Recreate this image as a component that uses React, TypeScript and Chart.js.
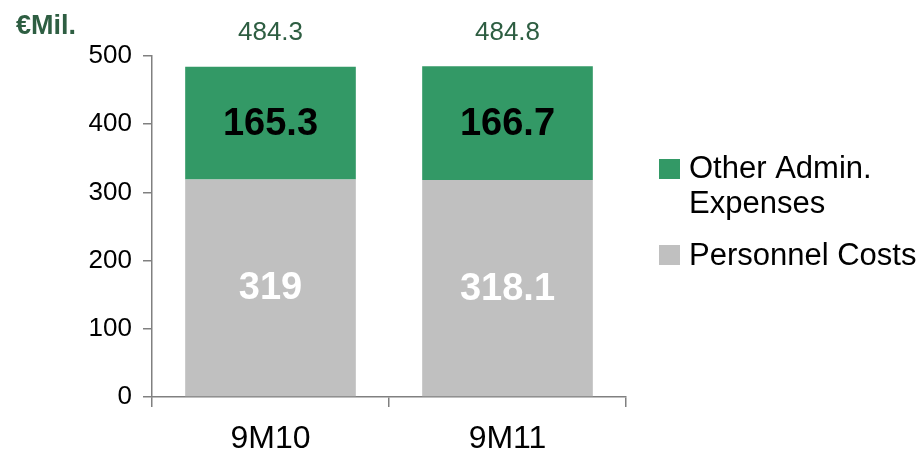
import React, { useEffect, useRef } from "react";
import { Chart, registerables } from "chart.js";

Chart.register(...registerables);

const categories = ["9M10", "9M11"];
const personnelCosts = [319, 318.1];
const otherAdminExpenses = [165.3, 166.7];
const yTicks = [0, 100, 200, 300, 400, 500];

const GREEN = "#339966";
const GRAY = "#c0c0c0";
const DARK_GREEN = "#2e5e42";
const AXIS = "#808080";
const FONT = "'Liberation Sans', Arial, Helvetica, sans-serif";

const fmt = (v: number) => (Math.round(v * 10) / 10).toString();

const labelsPlugin = {
  id: "valueLabels",
  afterDatasetsDraw(chart: any) {
    const ctx = chart.ctx;
    const area = chart.chartArea;
    ctx.save();
    ctx.textAlign = "center";
    ctx.textBaseline = "middle";

    // segment values inside each bar
    chart.data.datasets.forEach((ds: any, di: number) => {
      const meta = chart.getDatasetMeta(di);
      meta.data.forEach((el: any, i: number) => {
        const y = (el.y + el.base) / 2;
        ctx.font = `bold 38px ${FONT}`;
        ctx.fillStyle = ds.labelColor;
        ctx.fillText(fmt(ds.data[i]), el.x, y + 1);
      });
    });

    // stack totals above the bars
    const topMeta = chart.getDatasetMeta(chart.data.datasets.length - 1);
    topMeta.data.forEach((el: any, i: number) => {
      const total = personnelCosts[i] + otherAdminExpenses[i];
      ctx.font = `26px ${FONT}`;
      ctx.fillStyle = DARK_GREEN;
      ctx.fillText(fmt(total), el.x, el.y - 34);
    });

    // unit caption
    ctx.textAlign = "left";
    ctx.font = `bold 27px ${FONT}`;
    ctx.fillStyle = DARK_GREEN;
    ctx.fillText("€Mil.", 16, 27);

    // legend on the right
    const lx = area.right + 33;
    const tx = lx + 30;
    ctx.font = `31px ${FONT}`;
    ctx.fillStyle = GREEN;
    ctx.fillRect(lx, 159, 21, 20);
    ctx.fillStyle = "#000000";
    ctx.fillText("Other Admin.", tx, 169);
    ctx.fillText("Expenses", tx, 204);
    ctx.fillStyle = GRAY;
    ctx.fillRect(lx, 245, 21, 20);
    ctx.fillStyle = "#000000";
    ctx.fillText("Personnel Costs", tx, 256);

    ctx.restore();
  },
};

export default function App() {
  const canvasRef = useRef<HTMLCanvasElement>(null);

  useEffect(() => {
    if (!canvasRef.current) return;
    const chart = new Chart(canvasRef.current, {
      type: "bar",
      data: {
        labels: categories,
        datasets: [
          {
            label: "Personnel Costs",
            data: personnelCosts,
            backgroundColor: GRAY,
            labelColor: "#ffffff",
            barPercentage: 0.72,
            categoryPercentage: 1,
          } as any,
          {
            label: "Other Admin. Expenses",
            data: otherAdminExpenses,
            backgroundColor: GREEN,
            labelColor: "#000000",
            barPercentage: 0.72,
            categoryPercentage: 1,
          } as any,
        ],
      },
      options: {
        animation: false,
        responsive: false,
        maintainAspectRatio: false,
        layout: { padding: { top: 56, right: 296, left: 0, bottom: 0 } },
        plugins: {
          legend: { display: false },
          tooltip: { enabled: false },
        },
        scales: {
          x: {
            stacked: true,
            afterFit: (s: any) => {
              s.height = 59;
            },
            grid: {
              offset: true,
              drawOnChartArea: false,
              drawTicks: true,
              tickLength: 10,
              color: AXIS,
              lineWidth: 1.5,
            },
            border: { display: true, color: AXIS, width: 1.5 },
            ticks: {
              color: "#000000",
              font: { family: FONT, size: 32 },
              padding: 13,
            },
          },
          y: {
            stacked: true,
            min: yTicks[0],
            max: yTicks[yTicks.length - 1],
            afterFit: (s: any) => {
              s.width = 152;
            },
            afterBuildTicks: (s: any) => {
              s.ticks = yTicks.map((v) => ({ value: v }));
            },
            grid: {
              drawOnChartArea: false,
              drawTicks: true,
              tickLength: 9,
              color: AXIS,
              lineWidth: 1.5,
            },
            border: { display: true, color: AXIS, width: 1.5 },
            ticks: {
              color: "#000000",
              font: { family: FONT, size: 26 },
              padding: 11,
            },
          },
        },
      },
      plugins: [labelsPlugin],
    });
    return () => chart.destroy();
  }, []);

  return (
    <div style={{ position: "fixed", left: 0, top: 0, width: 922, height: 456, background: "#ffffff" }}>
      <canvas ref={canvasRef} width={922} height={456} style={{ width: 922, height: 456 }} />
    </div>
  );
}
